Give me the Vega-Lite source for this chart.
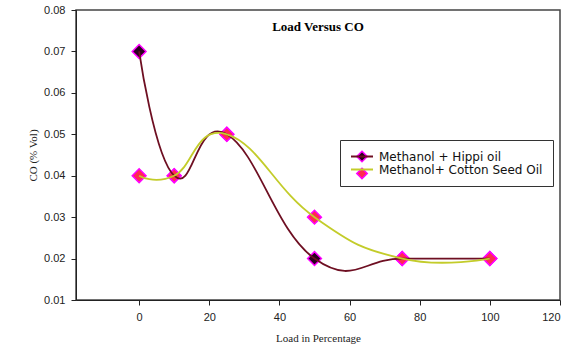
{
  "$schema": "https://vega.github.io/schema/vega-lite/v6.json",
  "autosize": "none",
  "width": 484,
  "height": 290,
  "padding": {"left": 76, "top": 10, "right": 14, "bottom": 47},
  "background": "white",
  "title": {
    "text": "Load Versus CO",
    "font": "Liberation Serif",
    "fontSize": 13,
    "fontWeight": "bold",
    "color": "#000000",
    "anchor": "middle",
    "offset": -40,
    "baseline": "alphabetic"
  },
  "config": {
    "view": {"stroke": "#444444", "strokeWidth": 1.5},
    "axis": {
      "grid": false,
      "domainColor": "#222222",
      "tickColor": "#222222",
      "labelFont": "Liberation Sans",
      "labelFontSize": 11,
      "labelColor": "#222222",
      "titleFont": "Liberation Serif",
      "titleFontSize": 11,
      "titleFontWeight": "normal",
      "titleColor": "#222222",
      "tickSize": 5
    }
  },
  "data": {
    "values": [
      {"load": 0, "co": 0.07, "series": "Methanol + Hippi oil"},
      {"load": 10, "co": 0.04, "series": "Methanol + Hippi oil"},
      {"load": 25, "co": 0.05, "series": "Methanol + Hippi oil"},
      {"load": 50, "co": 0.02, "series": "Methanol + Hippi oil"},
      {"load": 75, "co": 0.02, "series": "Methanol + Hippi oil"},
      {"load": 100, "co": 0.02, "series": "Methanol + Hippi oil"},
      {"load": 0, "co": 0.04, "series": "Methanol+ Cotton Seed Oil"},
      {"load": 10, "co": 0.04, "series": "Methanol+ Cotton Seed Oil"},
      {"load": 25, "co": 0.05, "series": "Methanol+ Cotton Seed Oil"},
      {"load": 50, "co": 0.03, "series": "Methanol+ Cotton Seed Oil"},
      {"load": 75, "co": 0.02, "series": "Methanol+ Cotton Seed Oil"},
      {"load": 100, "co": 0.02, "series": "Methanol+ Cotton Seed Oil"}
    ]
  },
  "encoding": {
    "x": {
      "field": "load",
      "type": "quantitative",
      "scale": {"domain": [-18, 120], "nice": false, "zero": false},
      "axis": {"values": [0, 20, 40, 60, 80, 100, 120], "title": "Load in Percentage", "titlePadding": 10, "labelPadding": 6}
    },
    "y": {
      "field": "co",
      "type": "quantitative",
      "scale": {"domain": [0.01, 0.08], "nice": false, "zero": false},
      "axis": {"values": [0.01, 0.02, 0.03, 0.04, 0.05, 0.06, 0.07, 0.08], "format": ".2f", "title": "CO (% Vol)", "titlePadding": 5, "labelPadding": 6}
    }
  },
  "layer": [
    {
      "mark": {"type": "point", "shape": "diamond", "filled": true, "size": 190, "stroke": "#ff00ff", "strokeWidth": 1.5, "opacity": 1},
      "encoding": {
        "fill": {
          "field": "series",
          "type": "nominal",
          "scale": {"domain": ["Methanol + Hippi oil", "Methanol+ Cotton Seed Oil"], "range": ["#2a0020", "#ff2a50"]},
          "legend": {
            "orient": "none",
            "legendX": 264,
            "legendY": 130,
            "title": null,
            "symbolType": "M1,-0.95L1.95,0L1,0.95L0.05,0Z",
            "symbolSize": 121,
            "symbolStrokeColor": "#ff00ff",
            "symbolStrokeWidth": 1.5,
            "symbolOpacity": 1,
            "labelExpr": "''",
            "labelFont": "DejaVu Sans",
            "labelFontSize": 12,
            "padding": 10,
            "rowPadding": 0
          }
        }
      }
    },
    {
      "mark": {"type": "line", "interpolate": "cardinal", "tension": -0.35, "strokeWidth": 1.8},
      "encoding": {
        "stroke": {
          "field": "series",
          "type": "nominal",
          "scale": {"domain": ["Methanol+ Cotton Seed Oil", "Methanol + Hippi oil"], "range": ["#c3cc2a", "#6e0f22"]},
          "legend": {
            "orient": "none",
            "legendX": 264,
            "legendY": 130,
            "values": ["Methanol + Hippi oil", "Methanol+ Cotton Seed Oil"],
            "title": null,
            "symbolType": "M-1,0H3",
            "symbolSize": 121,
            "symbolStrokeWidth": 2,
            "labelFont": "DejaVu Sans",
            "labelFontSize": 12,
            "labelLimit": 300,
            "labelColor": "#111111",
            "labelOffset": 16,
            "padding": 10,
            "rowPadding": 0,
            "strokeColor": "#333333",
            "fillColor": null
          }
        }
      }
    }
  ]
}
